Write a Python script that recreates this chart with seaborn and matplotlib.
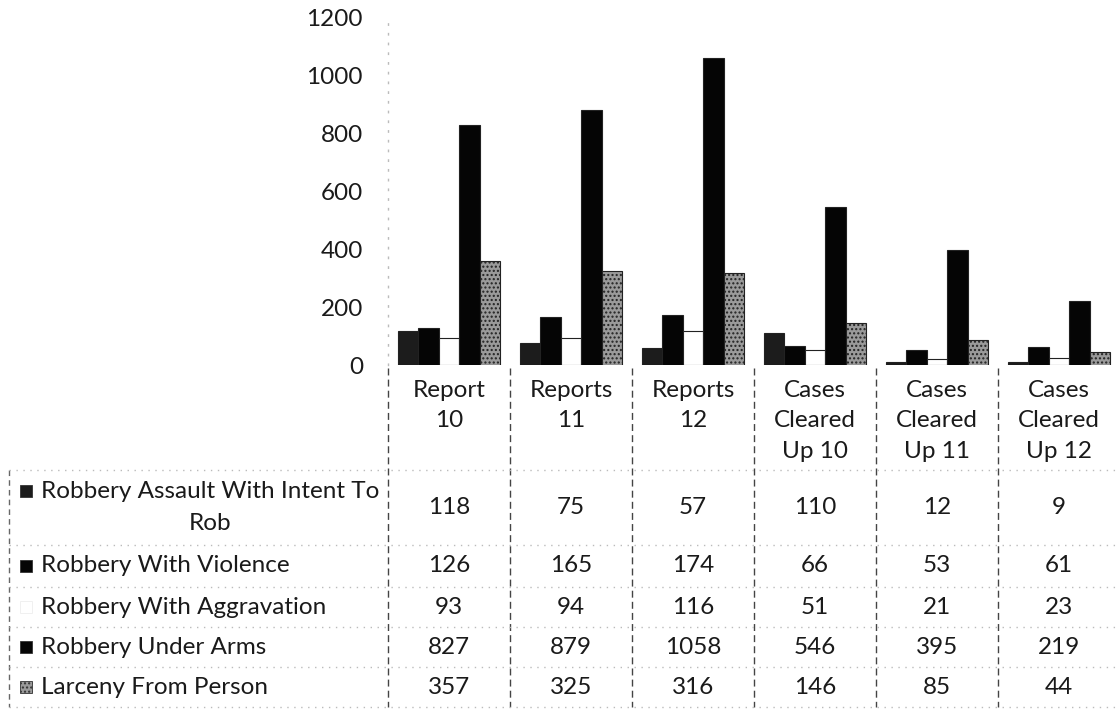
import pandas as pd
import matplotlib
matplotlib.use("Agg")
import matplotlib.pyplot as plt
import matplotlib.transforms as mtransforms
from matplotlib.patches import Rectangle
import seaborn as sns

categories = ["Report\n10", "Reports\n11", "Reports\n12",
              "Cases\nCleared\nUp 10", "Cases\nCleared\nUp 11", "Cases\nCleared\nUp 12"]
series_names = ["Robbery Assault With Intent To\nRob", "Robbery With Violence",
                "Robbery With Aggravation", "Robbery Under Arms", "Larceny From Person"]
assault = [118, 75, 57, 110, 12, 9]
violence = [126, 165, 174, 66, 53, 61]
aggravation = [93, 94, 116, 51, 21, 23]
under_arms = [827, 879, 1058, 546, 395, 219]
larceny = [357, 325, 316, 146, 85, 44]
y_ticks = [0, 200, 400, 600, 800, 1000, 1200]

series_values = [assault, violence, aggravation, under_arms, larceny]
bar_colors = ["#1c1c1c", "#050505", "#ffffff", "#050505", "#9a9a9a"]

rows = []
for name, vals in zip(series_names, series_values):
    for cat, v in zip(categories, vals):
        rows.append({"category": cat, "series": name, "value": v})
df = pd.DataFrame(rows)

sns.set_theme(style="white")
plt.rcParams['font.family'] = ['Lato', 'DejaVu Sans']
FS = 17.5
W, H = 1119, 711

fig = plt.figure(figsize=(W / 100, H / 100), dpi=100)

# table layer in pixel coordinates (y down)
tab = fig.add_axes([0, 0, 1, 1], zorder=0)
tab.set_xlim(0, W)
tab.set_ylim(H, 0)
tab.axis("off")

# plot area: category -0.5..5.5 spans x 388..1120, value 0..1200 spans y 365..17
ax = fig.add_axes([388 / W, 1 - 365 / H, 732 / W, 348 / H], zorder=1)
ax.patch.set_alpha(0)
sns.barplot(data=df, x="category", y="value", hue="series", order=categories,
            hue_order=series_names, palette=bar_colors, saturation=1, width=0.84,
            edgecolor="#222222", linewidth=0.8, legend=False, ax=ax)
for bar in ax.containers[4]:
    bar.set_hatch("....")

ax.set_xlim(-0.5, 5.5)
ax.set_ylim(0, 1200)
ax.set_yticks(y_ticks)
ax.set_yticklabels([str(t) for t in y_ticks], fontsize=FS, color="#1a1a1a")
ax.tick_params(axis="y", length=0, pad=18)
ax.set_xticks([])
ax.set_xlabel("")
ax.set_ylabel("")
for side in ["top", "right", "bottom"]:
    ax.spines[side].set_visible(False)
ax.spines["left"].set_linestyle((0, (1, 6)))
ax.spines["left"].set_color("#bbbbbb")
ax.spines["left"].set_linewidth(1)

# data table below the chart
mix = mtransforms.blended_transform_factory(ax.transData, tab.transData)
row_edges = [470, 545, 587, 627, 667, 707]
row_mid = [(a + b) / 2 for a, b in zip(row_edges[:-1], row_edges[1:])]

for i, cat in enumerate(categories):
    tab.text(i, 380, cat, transform=mix, ha="center", va="top",
             fontsize=FS, color="#1a1a1a", linespacing=1.55)

for r, (name, vals) in enumerate(zip(series_names, series_values)):
    yc = row_mid[r]
    tab.text(41, yc, name, ha="left", va="center", multialignment="center",
             fontsize=FS, color="#1a1a1a", linespacing=1.65)
    key_y = yc - 17 if "\n" in name else yc
    hatch = "...." if r == 4 else None
    edge = "#eeeeee" if r == 2 else "#333333"
    tab.add_patch(Rectangle((20, key_y - 6), 12, 12, facecolor=bar_colors[r],
                            edgecolor=edge, linewidth=0.6, hatch=hatch))
    for i, v in enumerate(vals):
        tab.text(i, yc, str(v), transform=mix, ha="center", va="center",
                 fontsize=FS, color="#1a1a1a")

# grid of the table
for k in range(len(categories) + 1):
    tab.plot([k - 0.5, k - 0.5], [368, row_edges[-1]], transform=mix,
             color="#444444", linewidth=1, linestyle=(0, (5, 3)))
tab.plot([9, 9], [row_edges[0], row_edges[-1]], color="#666666",
         linewidth=1, linestyle=(0, (4, 3)))
for y in row_edges:
    tab.plot([9, W], [y, y], color="#bbbbbb", linewidth=1, linestyle=(0, (1, 4)))

fig.savefig("out.png", dpi=100)
